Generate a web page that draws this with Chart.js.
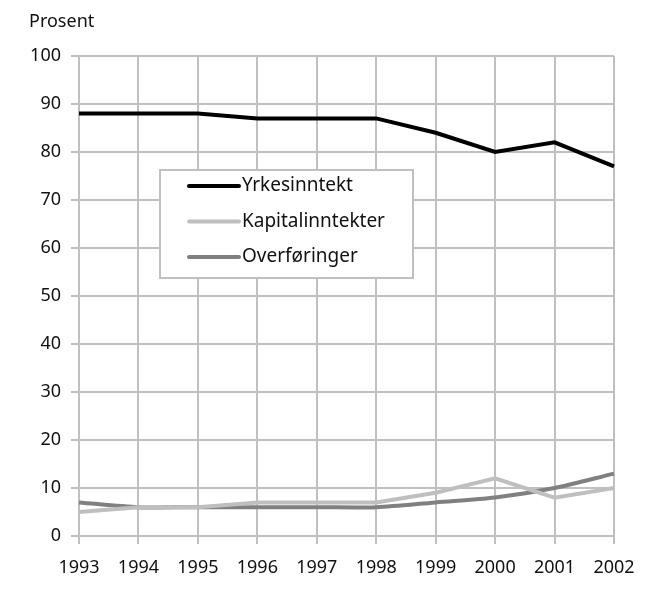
<!DOCTYPE html>
<html>
<head>
<meta charset="utf-8">
<script src="https://cdn.jsdelivr.net/npm/chart.js@4"></script>
<style>
  html, body { margin: 0; padding: 0; background: #fff; }
  #wrap { width: 655px; height: 596px; }
</style>
</head>
<body>
<div id="wrap"><canvas id="chart" width="655" height="596"></canvas></div>
<script>
const years = ["1993", "1994", "1995", "1996", "1997", "1998", "1999", "2000", "2001", "2002"]
const yrkesinntekt = [88, 88, 88, 87, 87, 87, 84, 80, 82, 77]
const kapitalinntekter = [5, 6, 6, 7, 7, 7, 9, 12, 8, 10]
const overforinger = [7, 6, 6, 6, 6, 6, 7, 8, 10, 13]
const yTicks = [0, 10, 20, 30, 40, 50, 60, 70, 80, 90, 100]

const FONT = "'Noto Sans', 'Open Sans', sans-serif"
const GRID = "#c0c0c0"
const TEXT = "#111111"

// "Prosent" label and the boxed legend inside the plot
const overlay = {
  id: "overlay",
  afterDraw(chart) {
    const ctx = chart.ctx
    ctx.save()
    ctx.fillStyle = TEXT
    ctx.font = "18px " + FONT
    ctx.textBaseline = "middle"
    ctx.textAlign = "left"
    ctx.fillText("Prosent", 29, 22)

    ctx.fillStyle = "#fff"
    ctx.fillRect(160, 170, 253, 108)
    ctx.strokeStyle = GRID
    ctx.lineWidth = 2
    ctx.strokeRect(160, 170, 253, 108)

    ctx.font = "19px " + FONT
    chart.data.datasets.forEach((ds, i) => {
      const y = 186 + i * 35.5
      ctx.strokeStyle = ds.borderColor
      ctx.lineWidth = 4
      ctx.lineCap = "round"
      ctx.beginPath()
      ctx.moveTo(189, y)
      ctx.lineTo(239, y)
      ctx.stroke()
      ctx.fillStyle = TEXT
      ctx.fillText(ds.label, 242, y)
    })
    ctx.restore()
  }
}

new Chart(document.getElementById("chart"), {
  type: "line",
  data: {
    labels: years,
    datasets: [
      { label: "Yrkesinntekt", data: yrkesinntekt, borderColor: "#000000", borderWidth: 4, pointRadius: 0, tension: 0 },
      { label: "Kapitalinntekter", data: kapitalinntekter, borderColor: "#bfbfbf", borderWidth: 4, pointRadius: 0, tension: 0 },
      { label: "Overføringer", data: overforinger, borderColor: "#808080", borderWidth: 4, pointRadius: 0, tension: 0.3 },
    ],
  },
  options: {
    responsive: false,
    animation: false,
    layout: { padding: { left: 0, right: 41, top: 56, bottom: 0 } },
    plugins: {
      legend: { display: false },
      tooltip: { enabled: false },
    },
    scales: {
      x: {
        offset: false,
        grid: { color: GRID, lineWidth: 2, tickLength: 8, drawTicks: true },
        border: { color: GRID, width: 2 },
        ticks: { color: TEXT, font: { family: FONT, size: 18 }, padding: 13, maxRotation: 0, autoSkip: false },
        afterFit(scale) { scale.height = 60 },
      },
      y: {
        min: 0,
        max: 100,
        afterBuildTicks(scale) { scale.ticks = yTicks.map(v => ({ value: v })) },
        grid: { color: GRID, lineWidth: 2, tickLength: 8, drawTicks: true },
        border: { color: GRID, width: 2 },
        ticks: { color: TEXT, font: { family: FONT, size: 18 }, padding: 10 },
        afterFit(scale) { scale.width = 79 },
      },
    },
  },
  plugins: [overlay],
})
</script>
</body>
</html>
